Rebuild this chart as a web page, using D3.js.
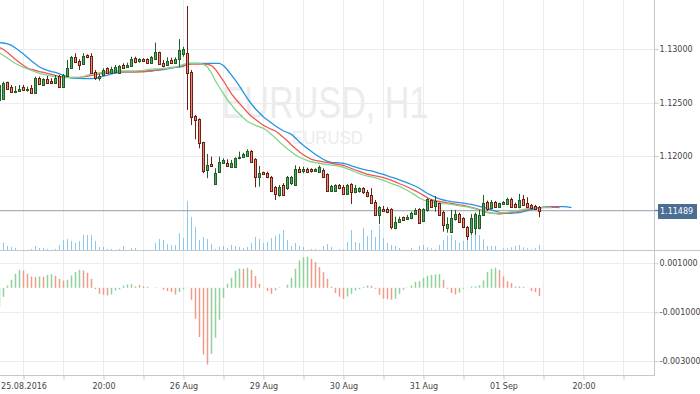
<!DOCTYPE html>
<html><head><meta charset="utf-8">
<script src="https://cdn.jsdelivr.net/npm/d3@7"></script>
<style>body{margin:0;background:#fff}svg{display:block}</style>
</head><body><svg id="c" width="700" height="394"></svg>
<script>
// ---------- DATA ----------
const symbol = "EURUSD", interval = "H1";
const startIndex = -1;              // first (partly visible) bar index
const lastPrice = 1.11489;
// [open, high, low, close] per H1 bar
const candles = [
[1.12525,1.12685,1.12469,1.12666],[1.12535,1.12697,1.12525,1.12682],[1.12691,1.12697,1.12626,1.12631],[1.12647,1.12666,1.12594,1.12603],
[1.12600,1.12656,1.12594,1.12610],[1.12610,1.12666,1.12603,1.12631],[1.12644,1.12666,1.12612,1.12619],[1.12619,1.12650,1.12603,1.12631],
[1.12641,1.12666,1.12582,1.12594],[1.12588,1.12743,1.12582,1.12729],[1.12734,1.12743,1.12666,1.12672],[1.12666,1.12729,1.12659,1.12719],
[1.12719,1.12750,1.12682,1.12687],[1.12706,1.12729,1.12675,1.12682],[1.12682,1.12759,1.12675,1.12729],[1.12750,1.12759,1.12638,1.12644],
[1.12644,1.12769,1.12638,1.12759],[1.12750,1.12900,1.12738,1.12828],[1.12828,1.12937,1.12818,1.12925],[1.12931,1.12963,1.12878,1.12884],
[1.12893,1.12906,1.12806,1.12853],[1.12860,1.12963,1.12853,1.12937],[1.12947,1.12953,1.12916,1.12925],[1.12937,1.12963,1.12775,1.12781],
[1.12790,1.12806,1.12713,1.12729],[1.12729,1.12769,1.12706,1.12750],[1.12757,1.12822,1.12750,1.12806],[1.12822,1.12831,1.12769,1.12775],
[1.12781,1.12837,1.12775,1.12813],[1.12785,1.12853,1.12775,1.12837],[1.12781,1.12853,1.12775,1.12844],[1.12850,1.12869,1.12822,1.12828],
[1.12831,1.12875,1.12828,1.12853],[1.12844,1.12931,1.12837,1.12906],[1.12916,1.12931,1.12869,1.12884],[1.12893,1.12916,1.12875,1.12906],
[1.12906,1.12916,1.12884,1.12893],[1.12912,1.12916,1.12862,1.12869],[1.12869,1.12937,1.12862,1.12925],[1.12909,1.13062,1.12900,1.12978],
[1.12972,1.12978,1.12853,1.12862],[1.12875,1.12900,1.12831,1.12844],[1.12853,1.12925,1.12844,1.12890],[1.12900,1.12921,1.12862,1.12875],
[1.12875,1.12925,1.12869,1.12909],[1.12909,1.13096,1.12837,1.12993],[1.12956,1.13024,1.12931,1.13000],[1.12968,1.13405,1.12432,1.12775],
[1.12790,1.12806,1.12291,1.12363],[1.12376,1.12385,1.12158,1.12338],[1.12345,1.12354,1.12073,1.12120],[1.12129,1.12135,1.11839,1.11864],
[1.11870,1.12020,1.11793,1.11917],[1.11926,1.11995,1.11901,1.11908],[1.11739,1.11886,1.11730,1.11845],[1.11854,1.11995,1.11845,1.11942],
[1.11939,1.11980,1.11926,1.11964],[1.11933,1.11970,1.11901,1.11908],[1.11901,1.11964,1.11896,1.11933],[1.11901,1.11989,1.11896,1.11980],
[1.11980,1.12042,1.11970,1.11995],[1.11989,1.12032,1.11983,1.12017],[1.12004,1.12064,1.11995,1.12051],[1.12051,1.12057,1.11939,1.11948],
[1.11970,1.11980,1.11708,1.11808],[1.11808,1.11908,1.11714,1.11839],[1.11849,1.11854,1.11823,1.11830],[1.11845,1.11854,1.11793,1.11802],
[1.11808,1.11814,1.11671,1.11676],[1.11708,1.11720,1.11589,1.11643],[1.11636,1.11730,1.11620,1.11708],[1.11730,1.11746,1.11627,1.11636],
[1.11699,1.11814,1.11683,1.11802],[1.11746,1.11814,1.11730,1.11802],[1.11730,1.11914,1.11720,1.11877],[1.11882,1.11901,1.11849,1.11854],
[1.11861,1.11901,1.11839,1.11877],[1.11880,1.11892,1.11845,1.11854],[1.11877,1.11886,1.11845,1.11858],[1.11861,1.11886,1.11854,1.11880],
[1.11854,1.11910,1.11845,1.11901],[1.11870,1.11886,1.11793,1.11802],[1.11833,1.11839,1.11667,1.11674],[1.11676,1.11730,1.11667,1.11720],
[1.11676,1.11736,1.11667,1.11727],[1.11727,1.11739,1.11690,1.11699],[1.11714,1.11730,1.11636,1.11646],[1.11646,1.11739,1.11636,1.11730],
[1.11736,1.11746,1.11552,1.11667],[1.11667,1.11730,1.11652,1.11699],[1.11674,1.11708,1.11658,1.11699],[1.11699,1.11708,1.11646,1.11662],
[1.11667,1.11683,1.11615,1.11627],[1.11636,1.11699,1.11552,1.11564],[1.11574,1.11589,1.11440,1.11449],[1.11449,1.11533,1.11365,1.11521],
[1.11508,1.11533,1.11480,1.11486],[1.11508,1.11521,1.11465,1.11480],[1.11502,1.11512,1.11315,1.11334],[1.11330,1.11433,1.11315,1.11386],
[1.11386,1.11433,1.11377,1.11414],[1.11427,1.11433,1.11396,1.11402],[1.11412,1.11449,1.11402,1.11433],[1.11418,1.11480,1.11409,1.11465],
[1.11458,1.11512,1.11449,1.11496],[1.11505,1.11512,1.11365,1.11377],[1.11396,1.11512,1.11386,1.11505],[1.11496,1.11605,1.11480,1.11596],
[1.11589,1.11596,1.11521,1.11527],[1.11533,1.11627,1.11480,1.11583],[1.11559,1.11564,1.11440,1.11449],[1.11480,1.11489,1.11293,1.11355],
[1.11325,1.11427,1.11283,1.11365],[1.11293,1.11496,1.11283,1.11418],[1.11409,1.11496,1.11396,1.11458],[1.11458,1.11471,1.11377,1.11386],
[1.11418,1.11427,1.11325,1.11334],[1.11340,1.11346,1.11215,1.11252],[1.11293,1.11458,1.11262,1.11418],[1.11325,1.11471,1.11262,1.11458],
[1.11325,1.11496,1.11315,1.11449],[1.11449,1.11636,1.11440,1.11559],[1.11574,1.11583,1.11489,1.11502],[1.11512,1.11589,1.11502,1.11574],
[1.11571,1.11580,1.11521,1.11527],[1.11527,1.11564,1.11521,1.11559],[1.11549,1.11580,1.11543,1.11568],[1.11552,1.11611,1.11543,1.11602],
[1.11602,1.11611,1.11521,1.11527],[1.11552,1.11564,1.11512,1.11521],[1.11527,1.11646,1.11512,1.11589],[1.11596,1.11636,1.11533,1.11543],
[1.11564,1.11615,1.11521,1.11527],[1.11543,1.11552,1.11502,1.11512],[1.11533,1.11543,1.11496,1.11502],[1.11521,1.11533,1.11427,1.11489]
];
const volumes = [
0,730,400,300,200,0,0,0,100,400, 200,200,100,0,100,500,1000,1100,900,700,
900,1500,1500,1500,900,300,300,100,100,0, 100,400,0,200,200,0,0,0,0,700,
1100,1000,600,500,500,1700,1200,4900,3300,2300, 1000,1300,1100,600,100,300,400,200,500,400,
300,200,300,700,1300,1100,700,800,1200,1400, 1600,2000,1000,400,700,400,300,0,100,100,
0,400,600,300,0,100,100,800,2000,800, 700,2200,1400,2000,1300,2500,1200,700,500,400,
200,0,0,200,0,400,500,270,170,70, 500,1000,1430,1500,1000,730,930,1500,1500,2000,
1500,1070,400,400,400,0,170,170,270,400, 500,270,170,70,170,500
];
const aoValues = [
-0.000763,-0.000367,0.000094,0.000326,0.000571,0.000734,0.000706,0.000571,0.000461,0.000437,
0.000461,0.000449,0.000530,0.000551,0.000490,0.000367,0.000298,0.000326,0.000502,0.000641,
0.000734,0.000706,0.000612,0.000367,-0.000053,-0.000245,-0.000286,-0.000314,-0.000273,-0.000110,
-0.000069,0.000094,0.000135,0.000151,0.000061,0.000122,0.000069,0.000041,0.000000,0.000020,
0.000000,-0.000082,-0.000135,-0.000175,-0.000273,-0.000175,-0.000069,-0.000012,-0.000490,-0.001265,
-0.002011,-0.002721,-0.003129,-0.002693,-0.002040,-0.001306,-0.000408,0.000163,0.000408,0.000706,
0.000787,0.000775,0.000816,0.000734,0.000477,0.000163,-0.000012,-0.000135,-0.000245,-0.000110,
0.000020,0.000000,0.000122,0.000408,0.000775,0.001114,0.001253,0.001277,0.001183,0.001049,
0.000845,0.000641,0.000367,0.000053,-0.000216,-0.000367,-0.000449,-0.000355,-0.000245,-0.000110,
-0.000053,0.000041,0.000094,0.000082,-0.000041,-0.000286,-0.000449,-0.000461,-0.000490,-0.000449,
-0.000245,-0.000082,0.000012,0.000094,0.000245,0.000273,0.000408,0.000490,0.000530,0.000543,
0.000559,0.000326,-0.000041,-0.000216,-0.000273,-0.000204,-0.000041,-0.000012,0.000053,0.000061,
0.000102,0.000298,0.000641,0.000775,0.000816,0.000734,0.000461,0.000273,0.000192,0.000053,
0.000061,0.000041,0.000000,-0.000135,-0.000175,-0.000339
];
// Alligator lines (jaw / teeth / lips), one value per bar from startIndex, extending past the last bar
const jaw = [
1.13064,1.13059,1.13050,1.13036,1.13012,1.12984,1.12956,1.12923,1.12890,1.12862,
1.12834,1.12816,1.12802,1.12792,1.12783,1.12769,1.12755,1.12741,1.12731,1.12727,
1.12727,1.12725,1.12725,1.12725,1.12729,1.12736,1.12750,1.12759,1.12769,1.12778,
1.12783,1.12788,1.12788,1.12789,1.12790,1.12792,1.12794,1.12797,1.12797,1.12802,
1.12806,1.12811,1.12818,1.12825,1.12830,1.12834,1.12839,1.12867,1.12869,1.12869,
1.12869,1.12869,1.12869,1.12869,1.12869,1.12869,1.12848,1.12806,1.12759,1.12708,
1.12656,1.12596,1.12539,1.12488,1.12441,1.12404,1.12366,1.12338,1.12310,1.12282,
1.12259,1.12235,1.12221,1.12203,1.12170,1.12132,1.12100,1.12071,1.12043,1.12015,
1.11992,1.11968,1.11950,1.11942,1.11939,1.11936,1.11931,1.11922,1.11908,1.11896,
1.11886,1.11875,1.11867,1.11861,1.11851,1.11839,1.11828,1.11814,1.11802,1.11791,
1.11777,1.11764,1.11749,1.11734,1.11718,1.11699,1.11674,1.11650,1.11632,1.11613,
1.11599,1.11589,1.11580,1.11574,1.11569,1.11564,1.11559,1.11552,1.11547,1.11538,
1.11530,1.11521,1.11510,1.11496,1.11484,1.11472,1.11465,1.11463,1.11463,1.11468,
1.11472,1.11480,1.11489,1.11499,1.11508,1.11515,1.11521,1.11524,1.11527,1.11527,
1.11527,1.11527,1.11524,1.11517
];
const teeth = [
1.13017,1.12998,1.12970,1.12937,1.12905,1.12876,1.12848,1.12825,1.12811,1.12802,
1.12792,1.12785,1.12775,1.12766,1.12755,1.12745,1.12741,1.12738,1.12738,1.12738,
1.12738,1.12741,1.12747,1.12755,1.12762,1.12769,1.12775,1.12778,1.12783,1.12788,
1.12790,1.12790,1.12790,1.12790,1.12790,1.12790,1.12790,1.12794,1.12800,1.12804,
1.12811,1.12818,1.12823,1.12830,1.12834,1.12841,1.12848,1.12856,1.12862,1.12862,
1.12862,1.12862,1.12860,1.12848,1.12811,1.12759,1.12703,1.12642,1.12582,1.12535,
1.12493,1.12451,1.12408,1.12371,1.12343,1.12315,1.12287,1.12268,1.12251,1.12235,
1.12207,1.12174,1.12142,1.12104,1.12071,1.12039,1.12011,1.11989,1.11970,1.11959,
1.11952,1.11945,1.11939,1.11933,1.11926,1.11920,1.11912,1.11898,1.11884,1.11870,
1.11856,1.11842,1.11830,1.11821,1.11814,1.11808,1.11798,1.11786,1.11772,1.11758,
1.11741,1.11727,1.11711,1.11692,1.11674,1.11655,1.11632,1.11610,1.11592,1.11582,
1.11575,1.11569,1.11561,1.11557,1.11550,1.11543,1.11538,1.11529,1.11519,1.11510,
1.11499,1.11486,1.11474,1.11466,1.11461,1.11458,1.11463,1.11468,1.11472,1.11477,
1.11484,1.11489,1.11499,1.11508,1.11515,1.11517,1.11519,1.11521,1.11521,1.11521,
1.11517
];
const lips = [
1.12965,1.12942,1.12919,1.12890,1.12867,1.12848,1.12830,1.12816,1.12802,1.12788,
1.12775,1.12766,1.12758,1.12750,1.12744,1.12738,1.12734,1.12734,1.12734,1.12734,
1.12738,1.12745,1.12759,1.12772,1.12778,1.12781,1.12785,1.12790,1.12795,1.12797,
1.12797,1.12797,1.12797,1.12797,1.12797,1.12800,1.12803,1.12809,1.12814,1.12816,
1.12817,1.12820,1.12822,1.12828,1.12834,1.12844,1.12858,1.12869,1.12869,1.12869,
1.12869,1.12858,1.12834,1.12778,1.12703,1.12642,1.12582,1.12525,1.12479,1.12432,
1.12394,1.12357,1.12324,1.12305,1.12287,1.12273,1.12259,1.12235,1.12203,1.12170,
1.12132,1.12100,1.12067,1.12039,1.12011,1.11989,1.11973,1.11957,1.11947,1.11939,
1.11933,1.11926,1.11920,1.11915,1.11910,1.11903,1.11894,1.11880,1.11866,1.11851,
1.11836,1.11823,1.11812,1.11805,1.11795,1.11784,1.11772,1.11758,1.11742,1.11730,
1.11716,1.11697,1.11678,1.11657,1.11632,1.11608,1.11589,1.11577,1.11571,1.11563,
1.11559,1.11555,1.11552,1.11547,1.11541,1.11533,1.11530,1.11524,1.11515,1.11505,
1.11494,1.11482,1.11472,1.11466,1.11465,1.11468,1.11471,1.11474,1.11479,1.11484,
1.11493,1.11502,1.11507,1.11512,1.11515,1.11516,1.11517,1.11517,1.11517
];
const priceTicks = [1.115, 1.12, 1.125, 1.13];
const aoTicks = [0.001, -0.001, -0.003];
const gridIndex = d3.range(5, 160, 10);
const timeTickIndex = [5, 25, 45, 65, 85, 105, 125, 145];
const timeTickLabels = ["25.08.2016", "20:00", "26 Aug", "29 Aug", "30 Aug", "31 Aug", "01 Sep", "20:00"];

// ---------- LAYOUT ----------
const axisX = 654.5, priceBottom = 250, paneBottom = 375.5;
const FONT = "'DejaVu Sans', Verdana, sans-serif";
const svg = d3.select("#c");
const x = d3.scaleLinear().domain([0, 160]).range([3.5, 643.5]);
const yP = d3.scaleLinear().domain([1.12, 1.13]).range([156.1, 49.3]);
const yV = d3.scaleLinear().domain([0, 5000]).range([priceBottom, priceBottom - 50]);
const yA = d3.scaleLinear().domain([-0.001, 0.001]).range([312.3, 263.3]);

const defs = svg.append("defs");
defs.append("clipPath").attr("id", "cp").append("rect").attr("x", 0).attr("y", 0).attr("width", axisX).attr("height", priceBottom);
defs.append("clipPath").attr("id", "ca").append("rect").attr("x", 0).attr("y", priceBottom).attr("width", axisX).attr("height", paneBottom - priceBottom);

// watermark
const wm = svg.append("g").attr("fill", "#ececec").attr("font-family", "'Liberation Sans', Arial, sans-serif");
wm.append("text").attr("x", 221.5).attr("y", 117.5).attr("font-size", 45)
  .attr("textLength", 207).attr("lengthAdjust", "spacingAndGlyphs").text(symbol + ", " + interval);
wm.append("text").attr("x", 292).attr("y", 143.5).attr("font-size", 18)
  .attr("textLength", 71).attr("lengthAdjust", "spacingAndGlyphs").text(symbol);

// grid
const grid = svg.append("g").attr("stroke", "#ececec").attr("stroke-width", 1);
grid.selectAll(".vg").data(gridIndex).join("line")
  .attr("x1", d => x(d)).attr("x2", d => x(d)).attr("y1", 0).attr("y2", paneBottom);
grid.selectAll(".hp").data(priceTicks).join("line")
  .attr("x1", 0).attr("x2", axisX).attr("y1", d => Math.round(yP(d)) + 0.5).attr("y2", d => Math.round(yP(d)) + 0.5);
grid.selectAll(".ha").data(aoTicks).join("line")
  .attr("x1", 0).attr("x2", axisX).attr("y1", d => Math.round(yA(d)) + 0.5).attr("y2", d => Math.round(yA(d)) + 0.5);

// volume
const bars = candles.map((c, k) => ({ i: k + startIndex, o: c[0], h: c[1], l: c[2], c: c[3], v: volumes[k], ao: aoValues[k], prevAo: k > 0 ? aoValues[k - 1] : -Infinity }));
const pg = svg.append("g").attr("clip-path", "url(#cp)");
pg.append("g").selectAll("rect").data(bars.filter(d => d.v > 0)).join("rect")
  .attr("x", d => x(d.i) - 0.5).attr("width", 1)
  .attr("y", d => yV(d.v)).attr("height", d => yV(0) - yV(d.v))
  .attr("fill", "#8cc7ee");

// price line
pg.append("line").attr("x1", 0).attr("x2", axisX).attr("y1", yP(lastPrice)).attr("y2", yP(lastPrice))
  .attr("stroke", "#a6b1be").attr("stroke-width", 1.2);

// alligator lines
const mkLine = d3.line().x((d, j) => x(j + startIndex)).y(d => yP(d));
[[jaw, "#2393e6"], [teeth, "#f25550"], [lips, "#82d48a"]].forEach(([arr, col]) => {
  pg.append("path").attr("d", mkLine(arr)).attr("fill", "none").attr("stroke", col).attr("stroke-width", 1.3);
});

// candles
const cg = pg.append("g");
const up = d => d.c >= d.o;
cg.selectAll("line").data(bars).join("line")
  .attr("x1", d => x(d.i)).attr("x2", d => x(d.i))
  .attr("y1", d => yP(d.h)).attr("y2", d => yP(d.l))
  .attr("stroke", d => up(d) ? "#1f5e27" : "#6a2114").attr("stroke-width", 1);
cg.selectAll("rect").data(bars).join("rect")
  .attr("x", d => x(d.i) - 1).attr("width", 2)
  .attr("y", d => Math.round(yP(Math.max(d.o, d.c))) + 0.5)
  .attr("height", d => Math.max(1, Math.round(yP(Math.min(d.o, d.c))) - Math.round(yP(Math.max(d.o, d.c)))))
  .attr("fill", d => up(d) ? "#55a35d" : "#ee8a74")
  .attr("stroke", d => up(d) ? "#1f5e27" : "#6a2114").attr("stroke-width", 1);

// awesome oscillator
const ag = svg.append("g").attr("clip-path", "url(#ca)");
ag.selectAll("rect").data(bars).join("rect")
  .attr("x", d => x(d.i) - 0.75).attr("width", 1.5)
  .attr("y", d => Math.min(yA(d.ao), yA(0)))
  .attr("height", d => Math.abs(yA(d.ao) - yA(0)))
  .attr("fill", d => d.ao >= d.prevAo ? "#8fd09b" : "#f09a8b");

// frame lines
const frame = svg.append("g").attr("stroke", "#c3c8cd").attr("stroke-width", 1);
frame.append("line").attr("x1", 0).attr("x2", 700).attr("y1", priceBottom + 0.5).attr("y2", priceBottom + 0.5);
frame.append("line").attr("x1", axisX).attr("x2", axisX).attr("y1", 0).attr("y2", paneBottom);
frame.append("line").attr("x1", 0).attr("x2", axisX).attr("y1", paneBottom).attr("y2", paneBottom);

function styleAxis(g) {
  g.select(".domain").remove();
  g.selectAll("line").attr("stroke", "#c3c8cd");
  g.selectAll("text").attr("fill", "#444").attr("font-family", FONT).attr("font-size", 8);
  g.attr("font-family", null).attr("font-size", null);
}
svg.append("g").attr("transform", `translate(${axisX},0)`)
  .call(d3.axisRight(yP).tickValues(priceTicks).tickFormat(d => d.toFixed(5)).tickSize(4).tickPadding(1))
  .call(styleAxis);
svg.append("g").attr("transform", `translate(${axisX},0)`)
  .call(d3.axisRight(yA).tickValues(aoTicks).tickFormat(d => d.toFixed(6)).tickSize(4).tickPadding(1))
  .call(styleAxis);
svg.append("g").attr("transform", `translate(0,${paneBottom})`)
  .call(d3.axisBottom(x).tickValues(gridIndex).tickSize(4).tickPadding(4)
    .tickFormat(d => { const k = timeTickIndex.indexOf(d); return k >= 0 ? timeTickLabels[k] : ""; }))
  .call(styleAxis);

// last price label
const lp = svg.append("g");
lp.append("rect").attr("x", 658).attr("y", Math.round(yP(lastPrice)) - 7).attr("width", 39).attr("height", 15).attr("fill", "#4a6e94");
lp.append("line").attr("x1", axisX).attr("x2", 658).attr("y1", yP(lastPrice)).attr("y2", yP(lastPrice)).attr("stroke", "#4a6e94");
lp.append("text").attr("x", 660).attr("y", yP(lastPrice)).attr("dy", "0.36em")
  .attr("fill", "#fff").attr("font-family", FONT).attr("font-size", 8).text(lastPrice.toFixed(5));
</script></body></html>
